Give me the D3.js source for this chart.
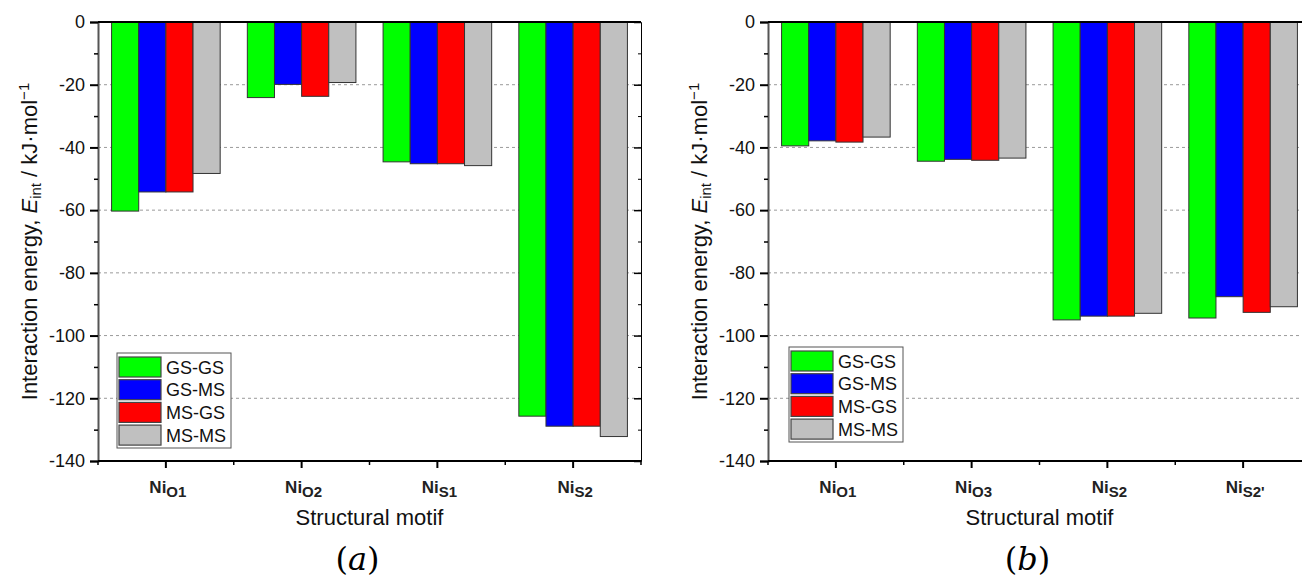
<!DOCTYPE html>
<html>
<head>
<meta charset="utf-8">
<script src="https://cdn.jsdelivr.net/npm/d3@7"></script>
<style>
  body { margin: 0; background: #fff; }
  svg { display: block; font-family: "Liberation Sans", Arial, sans-serif; }
</style>
</head>
<body>
<script>
// series + colours
const seriesNames = ['GS-GS', 'GS-MS', 'MS-GS', 'MS-MS'];
const seriesColors = ['#00ff00', '#0000ff', '#ff0000', '#c0c0c0'];

// panel (a)
const catsA = ['O1', 'O2', 'S1', 'S2'];
const gsgsA = [-60.3, -24.1, -44.6, -125.7];
const gsmsA = [-54.2, -19.9, -45.2, -128.9];
const msgsA = [-54.2, -23.7, -45.2, -128.9];
const msmsA = [-48.3, -19.3, -45.8, -132.2];

// panel (b)
const catsB = ['O1', 'O3', 'S2', "S2'"];
const gsgsB = [-39.5, -44.4, -95.0, -94.4];
const gsmsB = [-37.9, -43.8, -93.8, -87.6];
const msgsB = [-38.3, -44.1, -93.8, -92.6];
const msmsB = [-36.7, -43.4, -92.9, -90.8];

// axis ticks
const yMajor = [0, -20, -40, -60, -80, -100, -120, -140];
const yMinor = [-10, -30, -50, -70, -90, -110, -130];
const yGrid = [-20, -40, -60, -80, -100, -120];

const W = 1302, H = 578;
const svg = d3.select('body').append('svg').attr('width', W).attr('height', H);

const plotTop = 22, plotBottom = 461, plotW = 543;

function drawPanel(left, cats, values, legendPos, tag) {
  const g = svg.append('g');
  const right = left + plotW;

  const y = d3.scaleLinear([-140, 0], [plotBottom, plotTop]);
  const x = d3.scaleBand(cats, [left, right]).paddingInner(0.2).paddingOuter(0.1);
  const xs = d3.scaleBand(seriesNames, [0, x.bandwidth()]);

  // grid
  g.append('g').selectAll('line').data(yGrid).join('line')
    .attr('x1', left).attr('x2', right)
    .attr('y1', d => y(d)).attr('y2', d => y(d))
    .attr('stroke', '#9a9a9a').attr('stroke-width', 1)
    .attr('stroke-dasharray', '3 3');

  // bars
  const rows = cats.map((c, i) => ({ cat: c, vals: values.map(s => s[i]) }));
  g.append('g').selectAll('g').data(rows).join('g')
    .attr('transform', d => `translate(${x(d.cat)},0)`)
    .selectAll('rect')
    .data(d => d.vals.map((v, j) => ({ v, name: seriesNames[j], color: seriesColors[j] })))
    .join('rect')
    .attr('x', d => xs(d.name))
    .attr('y', y(0))
    .attr('width', xs.bandwidth())
    .attr('height', d => y(d.v) - y(0))
    .attr('fill', d => d.color)
    .attr('stroke', '#333').attr('stroke-width', 1);

  // left axis
  const yAxis = g.append('g').attr('transform', `translate(${left},0)`)
    .call(d3.axisLeft(y).tickValues(yMajor).tickSize(8).tickPadding(5).tickFormat(d => String(d)));
  yAxis.select('.domain').attr('stroke', '#555').attr('stroke-width', 2);
  yAxis.selectAll('.tick line').attr('stroke', '#000').attr('stroke-width', 2);
  yAxis.selectAll('.tick text').attr('font-size', 18).attr('fill', '#111')
    .attr('font-family', '"Liberation Sans", Arial, sans-serif');
  const yMin = g.append('g').attr('transform', `translate(${left},0)`)
    .call(d3.axisLeft(y).tickValues(yMinor).tickSize(4).tickFormat(''));
  yMin.select('.domain').remove();
  yMin.selectAll('.tick line').attr('stroke', '#000').attr('stroke-width', 1.5);

  // right axis (ticks inward)
  const rAxis = g.append('g').attr('transform', `translate(${right},0)`)
    .call(d3.axisLeft(y).tickValues(yMajor).tickSize(7).tickFormat(''));
  rAxis.select('.domain').attr('stroke', '#000').attr('stroke-width', 1);
  rAxis.selectAll('.tick line').attr('stroke', '#000').attr('stroke-width', 1.5);
  const rMin = g.append('g').attr('transform', `translate(${right},0)`)
    .call(d3.axisLeft(y).tickValues(yMinor).tickSize(3).tickFormat(''));
  rMin.select('.domain').remove();

  // top line
  g.append('line').attr('x1', left).attr('x2', right)
    .attr('y1', plotTop).attr('y2', plotTop)
    .attr('stroke', '#000').attr('stroke-width', 2);

  // bottom axis: major at centres, minor at band edges
  const xAxis = g.append('g').attr('transform', `translate(0,${plotBottom})`)
    .call(d3.axisBottom(x).tickSize(7).tickFormat(''));
  xAxis.select('.domain').attr('d', `M${left},0H${right}`).attr('stroke', '#000').attr('stroke-width', 2);
  xAxis.selectAll('.tick line').attr('stroke', '#000').attr('stroke-width', 2);
  const edges = cats.map(c => x(c) - (x.step() - x.bandwidth()) / 2).concat([right]);
  g.append('g').selectAll('line').data(edges).join('line')
    .attr('x1', d => d).attr('x2', d => d)
    .attr('y1', plotBottom).attr('y2', plotBottom + 4)
    .attr('stroke', '#000').attr('stroke-width', 1.5);

  // category labels
  const lab = g.append('g').selectAll('text').data(cats).join('text')
    .attr('x', d => x(d) + x.bandwidth() / 2 + 2)
    .attr('y', 493)
    .attr('text-anchor', 'middle')
    .attr('font-weight', 'bold')
    .attr('font-size', 17)
    .attr('fill', '#222');
  lab.append('tspan').text('Ni');
  lab.append('tspan').attr('font-size', 15).attr('dy', 4).text(d => d);

  // axis titles
  g.append('text')
    .attr('x', (left + right) / 2).attr('y', 525)
    .attr('text-anchor', 'middle').attr('font-size', 22).attr('fill', '#111')
    .text('Structural motif');

  const yt = g.append('text')
    .attr('transform', `translate(${left - 61},${(plotTop + plotBottom) / 2}) rotate(-90)`)
    .attr('text-anchor', 'middle').attr('font-size', 22).attr('fill', '#111');
  yt.append('tspan').text('Interaction energy, ');
  yt.append('tspan').attr('font-style', 'italic').text('E');
  yt.append('tspan').attr('font-size', 15).attr('dy', 4).text('int');
  yt.append('tspan').attr('dy', -4).text(' / kJ·mol');
  yt.append('tspan').attr('font-size', 15).attr('dy', -8).text('−1');

  // legend
  const leg = g.append('g').attr('transform', `translate(${legendPos[0]},${legendPos[1]})`);
  leg.append('rect').attr('width', 114).attr('height', 95)
    .attr('fill', '#fff').attr('stroke', '#555').attr('stroke-width', 1);
  const item = leg.selectAll('g').data(seriesNames).join('g')
    .attr('transform', (d, i) => `translate(2,${4 + i * 22.7})`);
  item.append('rect').attr('width', 42).attr('height', 20)
    .attr('fill', (d, i) => seriesColors[i])
    .attr('stroke', '#444').attr('stroke-width', 1.2);
  item.append('text').attr('x', 47).attr('y', 16.5)
    .attr('font-size', 18).attr('fill', '#111').text(d => d);

  // panel tag
  const t = svg.append('text')
    .attr('x', (left + right) / 2 - 12).attr('y', 570)
    .attr('text-anchor', 'middle')
    .attr('font-family', '"DejaVu Serif", "Liberation Serif", serif')
    .attr('font-size', 32).attr('fill', '#000');
  t.append('tspan').text('(');
  t.append('tspan').attr('font-style', 'italic').text(tag);
  t.append('tspan').text(')');
}

drawPanel(98, catsA, [gsgsA, gsmsA, msgsA, msmsA], [117, 353], 'a');
drawPanel(768, catsB, [gsgsB, gsmsB, msgsB, msmsB], [789, 347], 'b');
</script>
</body>
</html>
